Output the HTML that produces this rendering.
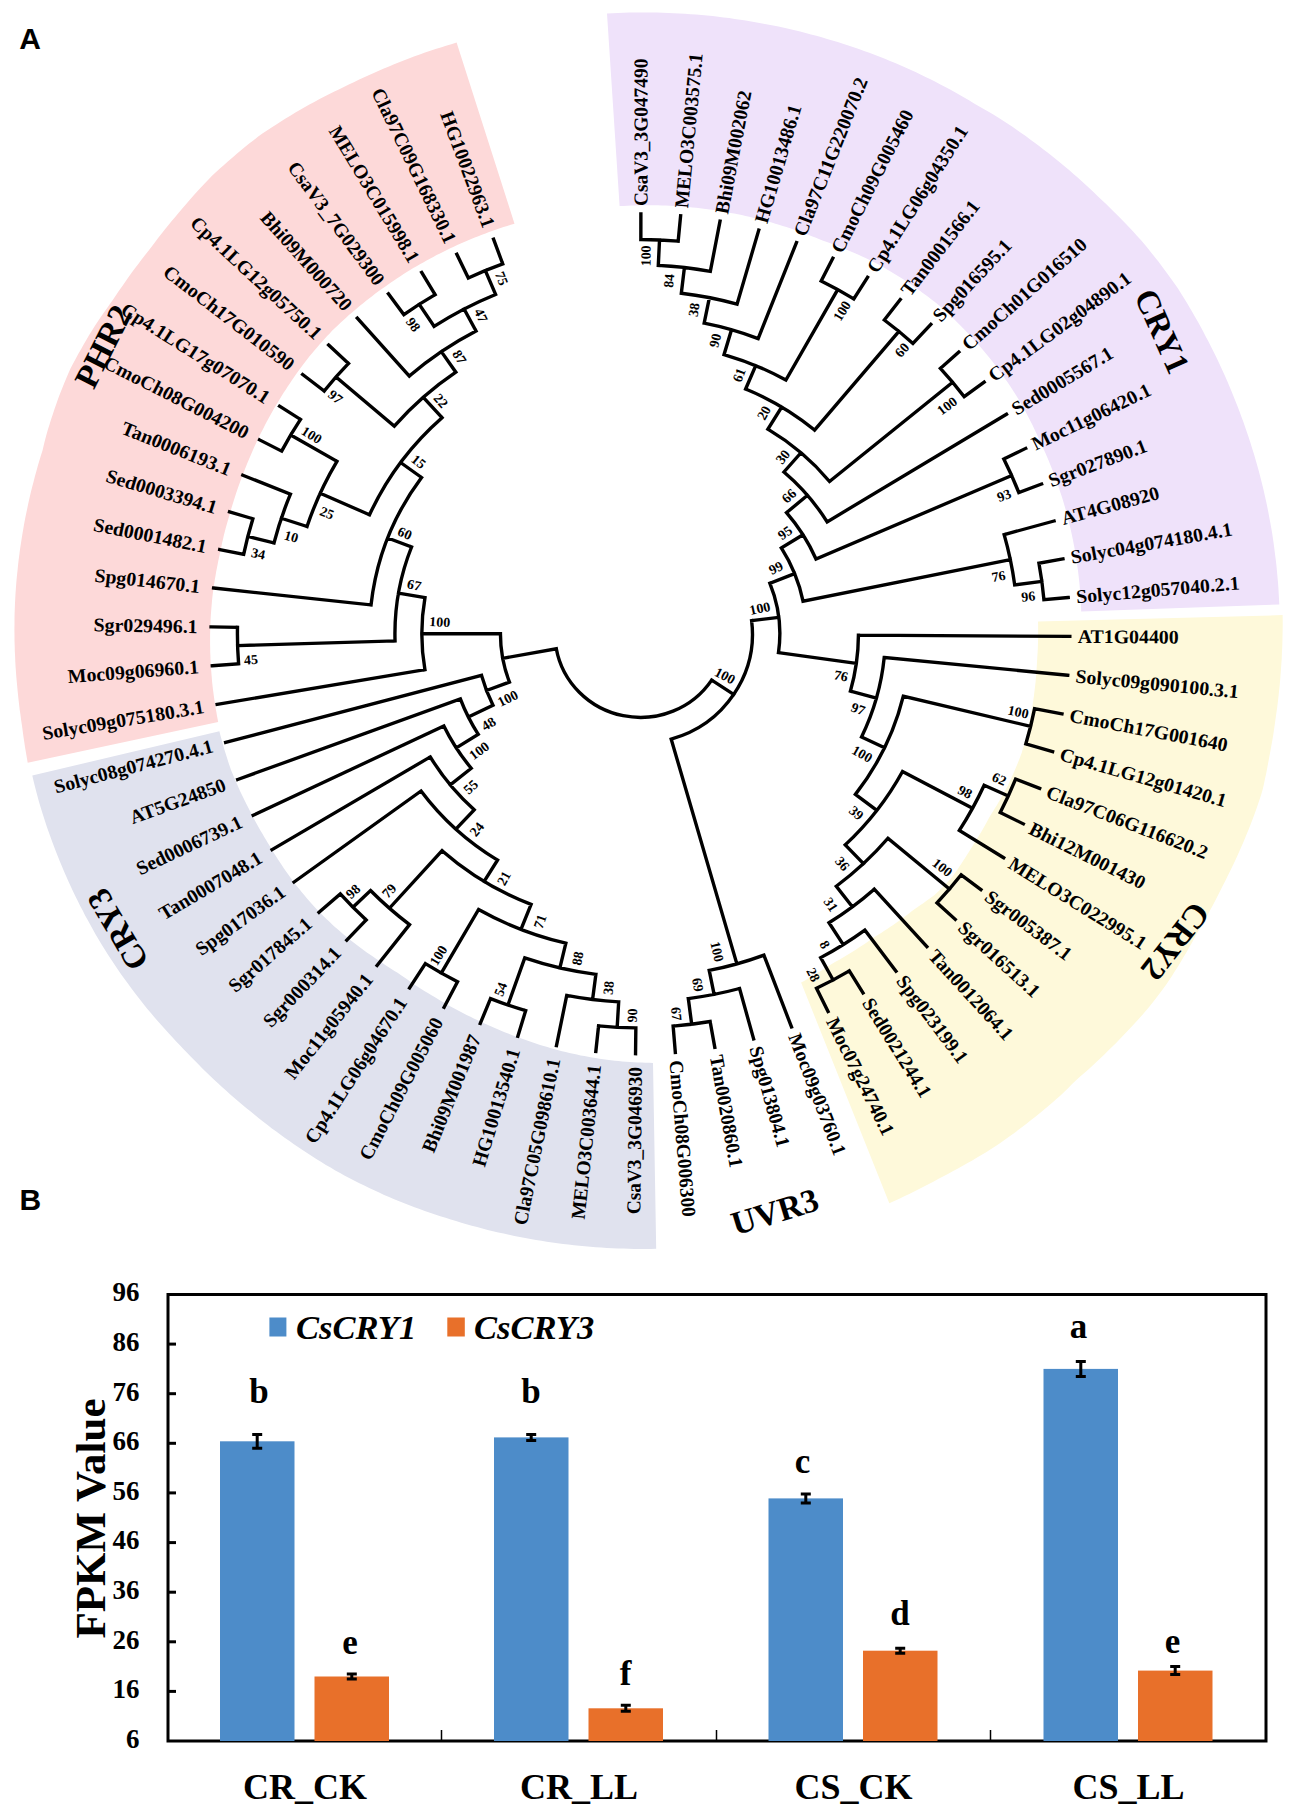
<!DOCTYPE html>
<html><head><meta charset="utf-8"><style>
html,body{margin:0;padding:0;background:#fff;}
svg{display:block;}
text{font-family:"Liberation Serif",serif;font-weight:bold;fill:#000;}
.lf{font-size:19.8px;dominant-baseline:central;}
.bs{font-size:14px;dominant-baseline:central;text-anchor:middle;}
.big{font-size:33.5px;dominant-baseline:central;text-anchor:middle;}
.tk{font-size:27px;dominant-baseline:central;text-anchor:end;}
.cat{font-size:36px;text-anchor:middle;}
.let{font-size:35px;text-anchor:middle;}
.leg{font-size:34.5px;font-style:italic;}
.yt{font-size:43px;text-anchor:middle;}
.pl{font-family:"Liberation Sans",sans-serif;font-size:30px;font-weight:bold;}
</style></head><body>
<svg width="1299" height="1814" viewBox="0 0 1299 1814">
<rect width="1299" height="1814" fill="#fff"/>
<path d="M27.7 762.8L26.8 757.5L25.9 752.2L25.0 746.9L24.2 741.6L23.4 736.3L22.7 731.0L22.0 725.7L21.2 720.4L20.5 715.1L19.7 709.8L19.1 704.5L18.5 699.2L17.9 693.8L17.4 688.5L16.9 683.2L16.4 677.8L16.0 672.5L15.6 667.1L15.3 661.8L15.1 656.5L14.8 651.1L14.7 645.7L14.5 640.4L14.5 635.0L14.4 629.7L14.5 624.3L14.5 619.0L14.6 613.6L14.8 608.2L15.0 602.9L15.3 597.5L15.6 592.2L16.0 586.8L16.4 581.5L16.9 576.2L17.5 570.8L18.0 565.5L18.6 560.2L19.3 554.9L20.0 549.5L20.8 544.2L21.6 538.9L22.5 533.6L23.4 528.3L24.3 523.1L25.3 517.8L26.4 512.5L27.5 507.3L28.6 502.0L29.8 496.8L31.0 491.6L32.3 486.4L33.7 481.2L35.0 476.0L36.5 470.8L37.9 465.6L39.4 460.5L41.0 455.3L42.6 450.2L43.8 445.0L45.1 439.7L46.5 434.5L48.0 429.3L49.6 424.2L51.2 419.0L52.9 413.9L54.6 408.8L56.4 403.7L58.2 398.6L60.1 393.5L62.1 388.5L64.1 383.4L66.2 378.4L68.3 373.4L70.5 368.5L73.0 363.7L75.6 358.9L78.2 354.1L80.9 349.4L83.5 344.7L86.3 340.0L89.0 335.3L91.9 330.7L94.8 326.1L97.8 321.6L100.8 317.1L103.9 312.6L107.0 308.2L110.1 303.7L113.3 299.3L116.3 294.8L119.3 290.3L122.4 285.9L125.5 281.4L128.6 277.0L131.8 272.6L135.0 268.2L138.3 263.9L141.6 259.6L144.9 255.3L148.3 251.1L151.6 246.8L154.8 242.4L158.1 238.1L161.5 233.8L164.8 229.5L168.3 225.3L171.7 221.0L175.2 216.9L178.7 212.7L182.3 208.5L185.8 204.4L189.4 200.2L193.1 196.1L196.7 192.1L200.4 188.0L204.2 184.0L208.0 180.0L211.8 176.1L215.8 172.3L219.9 168.6L224.0 164.9L228.1 161.3L232.3 157.7L236.5 154.1L240.7 150.6L244.9 147.1L249.2 143.6L253.6 140.2L257.9 136.8L262.4 133.6L267.0 130.6L271.6 127.5L276.3 124.5L280.9 121.5L285.6 118.6L290.3 115.7L295.0 112.8L299.8 110.0L304.6 107.2L309.4 104.6L314.3 101.9L319.1 99.3L324.0 96.8L328.9 94.2L333.9 91.8L338.8 89.4L343.8 87.0L348.8 84.6L353.8 82.2L358.7 79.8L363.7 77.5L368.7 75.2L373.8 72.9L378.8 70.7L383.9 68.5L389.0 66.4L394.1 64.3L399.2 62.2L404.3 60.2L409.5 58.2L414.6 56.3L419.8 54.5L425.0 52.6L430.3 50.8L435.5 49.1L440.8 47.4L446.0 45.8L451.3 44.2L456.6 42.6L514.5 223.7L510.8 224.8L507.2 225.9L503.5 227.1L499.9 228.3L496.3 229.5L492.7 230.8L489.1 232.1L485.5 233.4L481.9 234.8L478.3 236.2L474.8 237.6L471.2 239.0L467.7 240.5L464.2 242.0L460.7 243.6L457.2 245.1L453.8 246.7L450.3 248.3L446.9 250.0L443.4 251.7L440.0 253.4L436.6 255.1L433.3 256.9L429.9 258.7L426.6 260.5L423.2 262.4L419.9 264.3L416.6 266.2L413.3 268.1L410.1 270.1L406.8 272.1L403.6 274.1L400.4 276.2L397.2 278.3L394.0 280.4L390.9 282.5L387.8 284.7L384.7 286.9L381.6 289.1L378.5 291.3L375.4 293.6L372.4 295.9L369.4 298.2L366.4 300.5L363.5 302.9L360.5 305.3L357.6 307.7L354.7 310.2L351.8 312.7L348.9 315.1L346.1 317.7L343.3 320.2L340.5 322.8L337.7 325.4L335.0 328.0L332.3 330.6L329.7 333.4L327.1 336.1L324.5 338.9L322.0 341.7L319.5 344.6L317.0 347.4L314.6 350.3L312.1 353.2L309.7 356.1L307.4 359.0L305.1 362.0L302.8 365.0L300.6 368.0L298.4 371.1L296.2 374.1L294.0 377.2L291.9 380.3L289.8 383.4L287.7 386.5L285.7 389.7L283.6 392.8L281.6 396.0L279.7 399.2L277.7 402.4L275.8 405.6L273.9 408.8L272.1 412.0L270.3 415.3L268.5 418.6L266.7 421.8L265.0 425.1L263.3 428.4L261.6 431.8L259.9 435.1L258.3 438.4L256.7 441.8L255.2 445.1L253.6 448.5L252.1 451.9L250.7 455.3L249.2 458.7L247.8 462.1L246.4 465.6L245.0 469.0L243.7 472.4L242.3 475.9L241.0 479.3L239.8 482.8L238.5 486.3L237.3 489.7L236.1 493.2L235.0 496.7L233.9 500.3L232.8 503.8L231.7 507.3L230.7 510.8L229.7 514.4L228.6 517.9L227.6 521.4L226.6 525.0L225.6 528.5L224.7 532.1L223.8 535.6L223.0 539.2L222.1 542.8L221.4 546.4L220.6 550.0L219.9 553.6L219.1 557.2L218.3 560.8L217.6 564.4L216.9 568.0L216.2 571.6L215.6 575.2L214.9 578.9L214.4 582.5L213.8 586.1L213.3 589.8L212.8 593.4L212.4 597.1L212.0 600.8L211.7 604.4L211.4 608.1L211.1 611.8L210.8 615.4L210.6 619.1L210.5 622.8L210.3 626.5L210.2 630.2L210.1 633.9L210.1 637.6L210.1 641.2L210.1 644.9L210.2 648.6L210.2 652.3L210.4 656.0L210.5 659.7L210.7 663.4L210.9 667.1L211.2 670.7L211.5 674.4L211.8 678.1L212.1 681.8L212.5 685.5L212.9 689.1L213.4 692.8L213.9 696.5L214.4 700.1L215.0 703.8L215.5 707.4L216.2 711.1L216.8 714.7L217.5 718.4L218.2 722.0Z" fill="#fdd9d9"/>
<path d="M607.0 13.5L612.6 13.2L618.1 13.0L623.7 12.8L629.2 12.6L634.8 12.5L640.4 12.5L645.9 12.5L651.5 12.5L657.1 12.6L662.6 12.7L668.2 12.9L673.7 13.2L679.3 13.5L684.9 13.8L690.4 14.2L696.0 14.6L701.5 15.1L707.0 15.6L712.6 16.1L718.1 16.8L723.6 17.4L729.2 18.1L734.7 18.9L740.2 19.7L745.7 20.5L751.2 21.4L756.7 22.4L762.1 23.4L767.6 24.4L773.1 25.5L778.5 26.6L784.0 27.8L789.4 29.0L794.8 30.3L800.2 31.6L805.6 33.0L811.0 34.4L816.4 35.8L821.7 37.3L827.1 38.9L832.4 40.4L837.7 42.1L843.0 43.8L848.3 45.5L853.6 47.3L858.8 49.1L864.1 50.9L869.3 52.8L874.5 54.8L879.7 56.8L884.9 58.8L890.0 60.9L895.2 63.1L900.3 65.2L905.4 67.5L910.4 69.8L915.5 72.1L920.5 74.5L925.5 76.9L930.5 79.3L935.4 81.8L940.4 84.4L945.3 87.0L950.1 89.6L955.0 92.3L959.8 95.1L964.6 97.8L969.4 100.6L974.1 103.5L978.9 106.3L983.7 109.1L988.6 111.8L993.3 114.6L998.1 117.5L1002.8 120.5L1007.4 123.5L1012.1 126.6L1016.6 129.7L1021.2 132.9L1025.7 136.1L1030.2 139.4L1034.7 142.7L1039.1 146.0L1043.5 149.4L1047.9 152.8L1052.3 156.2L1056.6 159.7L1060.9 163.2L1065.1 166.8L1069.4 170.3L1073.5 174.0L1077.7 177.6L1081.8 181.3L1085.9 185.1L1090.0 188.8L1094.0 192.6L1098.0 196.5L1102.0 200.3L1106.1 204.1L1110.1 208.0L1114.1 211.9L1118.0 215.8L1121.9 219.7L1125.8 223.7L1129.6 227.8L1133.4 231.8L1137.1 235.9L1140.9 240.0L1144.5 244.2L1148.0 248.5L1151.5 252.9L1154.9 257.2L1158.4 261.6L1161.7 266.0L1165.0 270.5L1168.3 274.9L1171.6 279.4L1174.8 284.0L1178.0 288.5L1180.9 293.2L1183.9 297.9L1186.7 302.6L1189.6 307.4L1192.4 312.2L1195.1 317.0L1197.9 321.8L1200.5 326.6L1203.2 331.5L1205.7 336.4L1208.3 341.3L1210.8 346.2L1213.2 351.1L1215.7 356.1L1218.1 361.1L1220.4 366.1L1222.7 371.1L1225.0 376.1L1227.2 381.1L1229.4 386.2L1231.5 391.3L1233.6 396.4L1235.6 401.5L1237.6 406.6L1239.6 411.8L1241.5 416.9L1243.4 422.1L1245.2 427.3L1247.0 432.5L1248.8 437.7L1250.5 442.9L1252.1 448.2L1253.8 453.4L1255.3 458.7L1256.8 464.0L1258.3 469.3L1259.7 474.6L1261.1 479.9L1262.4 485.2L1263.7 490.6L1264.9 495.9L1266.1 501.3L1267.2 506.6L1268.3 512.0L1269.3 517.4L1270.3 522.8L1271.3 528.2L1272.2 533.6L1273.0 539.1L1273.8 544.5L1274.5 549.9L1275.2 555.4L1275.9 560.8L1276.5 566.2L1277.0 571.7L1277.5 577.2L1278.0 582.6L1278.4 588.1L1278.7 593.6L1279.0 599.0L1279.3 604.5L1081.2 611.6L1081.1 607.8L1080.9 604.0L1080.7 600.3L1080.5 596.5L1080.2 592.7L1079.9 588.9L1079.6 585.2L1079.2 581.4L1078.8 577.6L1078.4 573.9L1077.9 570.1L1077.4 566.4L1076.9 562.6L1076.3 558.9L1075.7 555.1L1075.1 551.4L1074.4 547.6L1073.7 543.9L1073.0 540.2L1072.2 536.5L1071.4 532.8L1070.6 529.0L1069.7 525.3L1068.8 521.7L1067.9 518.0L1066.9 514.3L1065.9 510.6L1064.9 507.0L1063.8 503.3L1062.7 499.6L1061.6 496.0L1060.4 492.4L1059.2 488.8L1058.0 485.2L1056.7 481.6L1055.4 478.0L1054.1 474.4L1052.7 470.8L1051.3 467.3L1049.9 463.7L1048.5 460.2L1047.0 456.7L1045.5 453.2L1043.9 449.7L1042.3 446.2L1040.7 442.7L1039.1 439.2L1037.5 435.7L1035.9 432.3L1034.2 428.8L1032.6 425.3L1030.9 421.9L1029.1 418.5L1027.3 415.0L1025.5 411.6L1023.7 408.3L1021.8 404.9L1019.9 401.5L1017.9 398.2L1015.9 395.0L1013.8 391.7L1011.7 388.5L1009.6 385.3L1007.4 382.1L1005.2 378.9L1003.0 375.7L1000.7 372.6L998.4 369.5L996.1 366.4L993.8 363.3L991.4 360.2L989.0 357.2L986.5 354.2L984.0 351.2L981.5 348.3L978.9 345.3L976.4 342.4L973.8 339.6L971.1 336.7L968.5 333.8L965.8 331.0L963.1 328.2L960.4 325.5L957.6 322.7L954.9 320.0L952.1 317.3L949.2 314.6L946.4 312.0L943.5 309.3L940.6 306.7L937.6 304.2L934.6 301.8L931.5 299.4L928.4 297.0L925.3 294.7L922.1 292.4L919.0 290.1L915.8 287.9L912.6 285.6L909.4 283.4L906.1 281.3L902.9 279.1L899.6 277.0L896.3 274.9L893.0 272.9L889.7 270.9L886.3 268.9L883.0 266.9L879.6 265.0L876.1 263.2L872.6 261.5L869.1 259.7L865.6 258.1L862.1 256.4L858.5 254.8L855.0 253.2L851.4 251.7L847.8 250.2L844.3 248.7L840.7 247.2L837.0 245.8L833.4 244.4L829.8 243.1L826.2 241.7L822.5 240.4L818.9 239.1L815.3 237.6L811.8 236.2L808.2 234.8L804.6 233.4L801.0 232.1L797.3 230.8L793.7 229.5L790.1 228.3L786.4 227.1L782.7 225.9L779.0 224.8L775.4 223.7L771.7 222.6L768.0 221.6L764.3 220.5L760.5 219.6L756.8 218.6L753.1 217.7L749.3 216.8L745.6 216.0L741.8 215.1L738.0 214.3L734.3 213.6L730.5 212.9L726.7 212.2L722.9 211.5L719.1 210.9L715.3 210.3L711.5 209.7L707.7 209.2L703.9 208.7L700.1 208.2L696.3 207.8L692.4 207.4L688.6 207.1L684.8 206.7L681.0 206.4L677.1 206.2L673.3 205.9L669.5 205.7L665.6 205.6L661.8 205.4L657.9 205.3L654.1 205.2L650.3 205.2L646.4 205.2L642.6 205.2L638.8 205.3L634.9 205.4L631.1 205.5L627.3 205.7L623.4 205.9L619.6 206.1Z" fill="#efe2fa"/>
<path d="M1282.6 615.1L1282.7 620.6L1282.7 626.1L1282.6 631.6L1282.5 637.0L1282.4 642.5L1282.2 648.0L1281.9 653.5L1281.7 659.0L1281.3 664.4L1280.9 669.9L1280.5 675.4L1280.1 680.8L1279.6 686.3L1279.0 691.7L1278.4 697.2L1277.8 702.6L1277.1 708.1L1276.3 713.5L1275.5 718.9L1274.8 724.3L1274.0 729.8L1273.2 735.2L1272.3 740.6L1271.3 746.0L1270.3 751.4L1269.3 756.8L1268.3 762.2L1267.3 767.6L1266.3 772.9L1265.1 778.3L1264.0 783.7L1262.8 789.0L1261.3 794.3L1259.6 799.6L1257.8 804.8L1256.0 810.0L1254.2 815.1L1252.2 820.3L1250.2 825.4L1248.2 830.5L1246.1 835.6L1244.0 840.7L1241.8 845.7L1239.6 850.7L1237.4 855.7L1235.1 860.7L1232.7 865.7L1230.4 870.6L1227.9 875.5L1225.5 880.4L1223.0 885.3L1220.5 890.2L1218.1 895.1L1215.6 899.9L1213.1 904.8L1210.5 909.6L1207.9 914.4L1205.2 919.1L1202.5 923.9L1199.8 928.6L1197.0 933.3L1194.4 938.1L1191.8 942.9L1189.1 947.6L1186.4 952.4L1183.6 957.1L1180.8 961.8L1178.0 966.4L1175.0 971.1L1172.1 975.7L1169.1 980.3L1166.1 984.8L1162.8 989.2L1159.6 993.6L1156.2 998.0L1152.9 1002.3L1149.5 1006.6L1145.9 1010.8L1142.3 1014.9L1138.7 1019.0L1135.0 1023.1L1131.3 1027.1L1127.5 1031.1L1123.7 1035.1L1119.9 1039.0L1116.1 1042.9L1112.2 1046.8L1108.3 1050.6L1104.4 1054.5L1100.4 1058.2L1096.4 1062.0L1092.4 1065.7L1088.4 1069.4L1084.3 1073.0L1080.2 1076.6L1076.1 1080.2L1072.1 1083.9L1068.3 1087.9L1064.4 1091.8L1060.5 1095.5L1056.4 1099.1L1052.2 1102.7L1048.1 1106.3L1043.9 1109.8L1039.7 1113.3L1035.4 1116.7L1031.1 1120.1L1026.8 1123.5L1022.5 1126.8L1018.1 1130.1L1013.7 1133.4L1009.3 1136.6L1004.8 1139.8L1000.3 1143.0L995.8 1146.0L991.1 1149.0L986.5 1151.9L981.8 1154.8L977.1 1157.6L972.3 1160.4L967.6 1163.1L962.8 1165.8L958.0 1168.5L953.2 1171.1L948.3 1173.7L943.5 1176.3L938.6 1178.8L933.8 1181.4L928.9 1184.0L924.0 1186.6L919.1 1189.1L914.2 1191.5L909.3 1193.9L904.3 1196.3L899.3 1198.7L894.3 1200.9L889.3 1203.2L801.1 982.5L804.1 980.9L807.0 979.2L810.0 977.5L812.9 975.8L815.8 974.0L818.7 972.2L821.6 970.5L824.5 968.6L827.3 966.8L830.1 964.9L833.0 963.2L835.9 961.5L838.9 959.9L841.8 958.2L844.7 956.5L847.6 954.8L850.5 953.0L853.3 951.2L856.2 949.4L859.0 947.6L861.8 945.8L864.6 943.9L867.4 942.0L870.2 940.1L872.9 938.1L875.7 936.2L878.6 934.5L881.5 932.7L884.3 930.8L887.2 929.0L890.0 927.1L892.8 925.2L895.6 923.2L898.4 921.3L901.1 919.3L903.9 917.3L906.6 915.3L909.3 913.2L912.0 911.1L914.8 909.1L917.7 907.1L920.5 905.1L923.3 903.2L926.2 901.1L929.0 899.1L931.8 897.0L934.5 894.9L937.1 892.6L939.6 890.2L942.0 887.8L944.5 885.3L946.9 882.8L949.2 880.3L951.5 877.8L953.5 875.0L955.5 872.2L957.5 869.4L959.4 866.5L961.3 863.7L963.2 860.8L965.1 858.0L966.9 855.1L968.7 852.2L970.5 849.2L972.3 846.4L974.1 843.5L975.9 840.6L977.7 837.7L979.5 834.8L981.2 831.9L982.9 828.9L984.6 826.0L986.3 823.0L987.9 820.0L989.5 817.0L991.3 814.1L993.1 811.2L994.9 808.3L996.7 805.4L998.4 802.4L1000.2 799.5L1001.8 796.5L1003.5 793.5L1005.2 790.5L1006.8 787.5L1008.3 784.4L1009.8 781.3L1011.2 778.2L1012.7 775.1L1014.0 772.0L1015.4 768.8L1016.7 765.7L1018.0 762.5L1019.3 759.3L1020.5 756.1L1021.7 752.9L1022.6 749.6L1023.6 746.3L1024.5 743.0L1025.3 739.7L1026.2 736.4L1027.0 733.1L1027.8 729.7L1028.5 726.4L1029.2 723.1L1029.9 719.7L1030.6 716.4L1031.2 713.0L1031.8 709.7L1032.4 706.3L1032.9 702.9L1033.4 699.6L1033.9 696.2L1034.3 692.8L1034.7 689.4L1035.1 686.0L1035.5 682.7L1035.8 679.3L1036.1 675.9L1036.4 672.5L1036.6 669.1L1036.8 665.7L1037.0 662.3L1037.2 658.9L1037.4 655.5L1037.6 652.2L1037.8 648.8L1037.9 645.4L1038.0 642.0L1038.1 638.6L1038.1 635.2L1038.1 631.8L1038.1 628.4L1038.1 625.0L1038.0 621.6Z" fill="#fef9da"/>
<path d="M656.2 1248.8L650.7 1248.9L645.2 1248.9L639.7 1248.9L634.2 1248.9L628.7 1248.8L623.3 1248.6L617.8 1248.4L612.3 1248.2L606.8 1247.9L601.3 1247.6L595.8 1247.2L590.4 1246.8L584.9 1246.3L579.4 1245.8L574.0 1245.2L568.5 1244.6L563.1 1243.9L557.6 1243.2L552.2 1242.5L546.8 1241.7L541.4 1240.8L536.0 1240.0L530.5 1239.0L525.2 1238.0L519.8 1237.0L514.4 1235.9L509.0 1234.8L503.7 1233.6L498.3 1232.4L493.0 1231.2L487.7 1229.9L482.4 1228.5L477.1 1227.1L471.8 1225.7L466.5 1224.2L461.3 1222.7L456.0 1221.1L450.8 1219.5L445.6 1217.8L440.3 1216.2L435.1 1214.5L430.0 1212.7L424.8 1210.9L419.6 1209.1L414.5 1207.2L409.4 1205.2L404.3 1203.3L399.2 1201.2L394.2 1199.2L389.1 1197.1L384.1 1194.9L379.1 1192.6L374.2 1190.3L369.2 1188.0L364.3 1185.6L359.4 1183.2L354.5 1180.8L349.7 1178.3L344.8 1175.7L340.1 1173.1L335.3 1170.4L330.6 1167.6L325.9 1164.9L321.3 1162.0L316.7 1159.2L312.1 1156.3L307.5 1153.3L302.9 1150.3L298.4 1147.3L293.9 1144.2L289.5 1141.1L285.0 1138.0L280.6 1134.8L276.3 1131.6L271.9 1128.4L267.6 1125.1L263.3 1121.8L259.1 1118.4L254.9 1115.0L250.7 1111.6L246.5 1108.2L242.3 1104.7L238.2 1101.3L234.1 1097.7L230.0 1094.2L226.0 1090.6L222.0 1087.0L218.0 1083.3L214.1 1079.7L210.2 1075.9L206.3 1072.2L202.4 1068.4L198.6 1064.6L194.9 1060.7L191.1 1056.9L187.3 1053.0L183.6 1049.2L179.9 1045.3L176.2 1041.4L172.6 1037.4L168.9 1033.4L165.3 1029.5L161.7 1025.5L158.1 1021.4L154.6 1017.4L151.1 1013.3L147.6 1009.2L144.2 1005.0L140.9 1000.8L137.6 996.5L134.3 992.3L131.1 988.0L127.9 983.6L124.7 979.3L121.6 974.9L118.5 970.5L115.5 966.0L112.5 961.6L109.5 957.1L106.6 952.6L103.8 948.0L101.0 943.4L98.2 938.8L95.5 934.2L92.9 929.5L90.3 924.8L87.7 920.1L85.1 915.4L82.7 910.6L80.2 905.9L77.8 901.1L75.4 896.3L73.1 891.4L70.8 886.6L68.6 881.7L66.4 876.8L64.3 871.9L62.2 867.0L60.1 862.0L58.1 857.0L56.1 852.1L54.2 847.1L52.3 842.1L50.5 837.0L48.7 832.0L46.9 826.9L45.2 821.8L43.6 816.8L42.0 811.7L40.4 806.5L38.9 801.4L37.5 796.2L36.1 791.1L34.8 785.9L33.5 780.7L32.3 775.5L219.4 731.3L220.3 734.9L221.3 738.5L222.2 742.1L223.2 745.6L224.3 749.2L225.4 752.8L226.5 756.3L227.6 759.8L228.8 763.4L230.0 766.9L231.2 770.4L232.6 773.8L234.0 777.3L235.5 780.7L237.0 784.1L238.5 787.5L240.0 790.9L241.6 794.2L243.2 797.6L244.9 800.9L246.5 804.2L248.2 807.5L249.9 810.8L251.6 814.1L253.3 817.4L255.0 820.7L256.8 824.0L258.6 827.2L260.4 830.4L262.3 833.6L264.1 836.8L266.1 840.0L268.0 843.2L269.9 846.3L271.8 849.5L273.7 852.7L275.7 855.8L277.7 858.9L279.7 862.0L281.7 865.1L283.8 868.2L285.9 871.3L288.1 874.3L290.2 877.3L292.4 880.3L294.6 883.3L296.9 886.2L299.3 889.1L301.6 892.0L304.0 894.8L306.4 897.7L308.8 900.5L311.2 903.3L313.7 906.0L316.2 908.8L318.8 911.5L321.4 914.1L324.1 916.7L326.7 919.3L329.5 921.8L332.2 924.4L334.9 926.9L337.7 929.3L340.5 931.8L343.3 934.2L346.2 936.6L349.0 939.0L351.9 941.3L354.9 943.6L357.8 945.8L360.8 948.0L363.8 950.2L366.8 952.4L369.9 954.5L372.9 956.6L376.0 958.7L379.1 960.7L382.1 962.8L385.2 964.9L388.3 966.9L391.4 968.9L394.5 970.9L397.6 972.8L400.7 974.9L403.7 977.0L406.7 979.1L409.7 981.2L412.8 983.3L415.8 985.4L418.9 987.4L422.0 989.4L425.2 991.4L428.3 993.3L431.5 995.2L434.6 997.1L437.8 999.1L441.0 1001.0L444.2 1002.8L447.4 1004.7L450.6 1006.5L453.9 1008.3L457.2 1010.0L460.5 1011.8L463.8 1013.5L467.1 1015.2L470.5 1016.8L473.8 1018.4L477.2 1020.0L480.6 1021.7L483.9 1023.2L487.4 1024.8L490.8 1026.3L494.2 1027.8L497.7 1029.3L501.1 1030.7L504.6 1032.2L508.1 1033.5L511.6 1034.9L515.1 1036.2L518.7 1037.5L522.2 1038.8L525.8 1040.1L529.3 1041.3L532.9 1042.6L536.5 1043.8L540.1 1044.9L543.7 1046.0L547.4 1047.1L551.0 1048.2L554.7 1049.2L558.4 1050.2L562.0 1051.2L565.7 1052.1L569.4 1053.0L573.2 1053.8L576.9 1054.6L580.6 1055.4L584.4 1056.1L588.1 1056.8L591.9 1057.5L595.7 1058.1L599.5 1058.7L603.2 1059.3L607.0 1059.8L610.8 1060.2L614.7 1060.7L618.5 1061.0L622.3 1061.4L626.1 1061.7L630.0 1061.9L633.8 1062.2L637.6 1062.4L641.5 1062.6L645.3 1062.7L649.2 1062.8L653.0 1062.9Z" fill="#e0e2ee"/>
<g transform="translate(640.43,633.8) scale(1,0.978)">
<path d="M0.42 -403.20A403.20 403.20 0 0 1 37.74 -401.43M0.42 -403.20L0.45 -429.40M37.74 -401.43L40.20 -427.51M17.87 -376.68A377.10 377.10 0 0 1 69.90 -370.56M17.87 -376.68L19.10 -402.75M69.90 -370.56L79.60 -421.96M40.90 -348.21A350.60 350.60 0 0 1 96.61 -337.03M40.90 -348.21L43.99 -374.53M96.61 -337.03L118.32 -412.78M63.75 -317.67A324.00 324.00 0 0 1 117.73 -301.86M63.75 -317.67L68.98 -343.75M117.73 -301.86L156.02 -400.05M180.74 -360.65A403.40 403.40 0 0 1 213.35 -342.37M180.74 -360.65L192.39 -383.89M213.35 -342.37L227.10 -364.43M83.63 -285.50A297.50 297.50 0 0 1 145.47 -259.51M83.63 -285.50L91.08 -310.93M145.47 -259.51L197.25 -351.88M243.88 -320.83A403.00 403.00 0 0 1 272.53 -296.88M243.88 -320.83L259.86 -341.85M272.53 -296.88L290.39 -316.32M105.21 -250.29A271.50 271.50 0 0 1 174.14 -208.30M105.21 -250.29L115.29 -274.25M174.14 -208.30L258.48 -309.18M299.96 -271.38A404.50 404.50 0 0 1 323.79 -242.45M299.96 -271.38L318.42 -288.08M323.79 -242.45L343.72 -257.37M127.46 -209.24A245.00 245.00 0 0 1 189.10 -155.78M127.46 -209.24L141.24 -231.87M189.10 -155.78L312.21 -257.19M143.49 -165.45A219.00 219.00 0 0 1 186.70 -114.47M143.49 -165.45L160.52 -185.09M186.70 -114.47L366.07 -224.45M363.38 -178.82A405.00 405.00 0 0 1 378.38 -144.42M363.38 -178.82L385.28 -189.60M378.38 -144.42L401.17 -153.12M146.07 -123.83A191.50 191.50 0 0 1 175.56 -76.50M146.07 -123.83L167.05 -141.62M175.56 -76.50L371.28 -161.79M398.51 -72.19A405.00 405.00 0 0 1 403.49 -34.99M398.51 -72.19L422.52 -76.54M403.49 -34.99L427.79 -37.10M363.73 -101.41A377.60 377.60 0 0 1 374.27 -50.02M363.73 -101.41L413.62 -115.32M374.27 -50.02L401.43 -53.65M140.90 -87.77A166.00 166.00 0 0 1 162.61 -33.37M140.90 -87.77L162.55 -101.25M162.61 -33.37L369.89 -75.90M208.87 344.65A403.00 403.00 0 0 1 176.07 362.50M208.87 344.65L222.56 367.22M176.07 362.50L187.61 386.25M224.40 302.94A377.00 377.00 0 0 1 180.25 331.12M224.40 302.94L255.59 345.04M180.25 331.12L192.68 353.95M233.81 261.12A350.50 350.50 0 0 1 188.56 295.46M233.81 261.12L286.44 319.90M188.56 295.46L202.82 317.80M320.76 246.45A404.50 404.50 0 0 1 296.57 275.08M320.76 246.45L340.50 261.62M296.57 275.08L314.82 292.01M247.50 209.09A324.00 324.00 0 0 1 195.86 258.10M247.50 209.09L308.99 261.04M195.86 258.10L211.88 279.21M375.16 148.55A403.50 403.50 0 0 1 359.80 182.64M375.16 148.55L399.24 158.08M359.80 182.64L382.89 194.36M343.71 154.88A377.00 377.00 0 0 1 318.93 201.03M343.71 154.88L367.88 165.77M318.93 201.03L363.26 228.97M262.09 140.77A297.50 297.50 0 0 1 204.79 215.80M262.09 140.77L332.12 178.39M204.79 215.80L223.03 235.02M394.15 76.46A401.50 401.50 0 0 1 385.38 112.62M394.15 76.46L421.54 81.78M385.38 112.62L412.16 120.45M262.88 63.76A270.50 270.50 0 0 1 214.98 164.18M262.88 63.76L390.19 94.64M214.98 164.18L236.43 180.57M243.80 24.19A245.00 245.00 0 0 1 221.13 105.48M243.80 24.19L427.30 42.40M221.13 105.48L244.14 116.46M218.00 1.35A218.00 218.00 0 0 1 209.99 58.57M218.00 1.35L429.39 2.66M209.99 58.57L235.99 65.82M129.47 -51.67A139.40 139.40 0 0 1 138.05 19.33M129.47 -51.67L154.18 -61.53M138.05 19.33L215.89 30.23M69.70 396.42A402.50 402.50 0 0 1 32.70 401.17M69.70 396.42L74.36 422.91M32.70 401.17L34.89 427.98M99.11 362.70A376.00 376.00 0 0 1 47.88 372.94M99.11 362.70L113.19 414.21M47.88 372.94L51.26 399.22M123.47 328.57A351.00 351.00 0 0 1 68.78 344.20M123.47 328.57L151.05 401.96M68.78 344.20L73.67 368.71M111.19 -13.44A112.00 112.00 0 0 1 30.77 107.69M111.19 -13.44L138.39 -16.73M30.77 107.69L96.44 337.49M-4.58 402.97A403.00 403.00 0 0 1 -41.86 400.82M-4.58 402.97L-4.88 429.37M-41.86 400.82L-44.61 427.08M-21.75 376.37A377.00 377.00 0 0 1 -73.70 369.73M-73.70 369.73L-83.95 421.11M-21.75 376.37L-23.25 402.33M-114.75 385.27A402.00 402.00 0 0 1 -149.92 373.00M-114.75 385.27L-122.57 411.53M-149.92 373.00L-160.14 398.42M-44.54 348.16A351.00 351.00 0 0 1 -115.67 331.39M-115.67 331.39L-132.48 379.54M-44.54 348.16L-47.84 373.95M-182.89 355.74A400.00 400.00 0 0 1 -215.04 337.28M-182.89 355.74L-196.33 381.89M-215.04 337.28L-230.84 362.07M-74.58 316.33A325.00 325.00 0 0 1 -161.83 281.84M-161.83 281.84L-199.18 346.88M-74.58 316.33L-80.54 341.63M-274.21 292.59A401.00 401.00 0 0 1 -300.12 265.95M-274.21 292.59L-293.63 313.31M-300.12 265.95L-321.38 284.78M-230.92 297.37A376.50 376.50 0 0 1 -269.91 262.49M-230.92 297.37L-263.37 339.15M-269.91 262.49L-287.48 279.57M-109.35 276.68A297.50 297.50 0 0 1 -198.35 221.73M-198.35 221.73L-251.02 280.61M-109.35 276.68L-119.46 302.25M-142.89 231.45A272.00 272.00 0 0 1 -219.40 160.77M-219.40 160.77L-346.36 253.81M-142.89 231.45L-156.28 253.14M-166.24 179.97A245.00 245.00 0 0 1 -210.18 125.90M-210.18 125.90L-368.37 220.66M-166.24 179.97L-184.56 199.81M-169.18 137.48A218.00 218.00 0 0 1 -196.58 94.23M-196.58 94.23L-387.21 185.61M-169.18 137.48L-190.14 154.51M-162.19 102.75A192.00 192.00 0 0 1 -180.08 66.61M-180.08 66.61L-402.73 148.97M-162.19 102.75L-184.16 116.66M-147.44 72.95A164.50 164.50 0 0 1 -158.90 42.54M-158.90 42.54L-414.79 111.05M-147.44 72.95L-172.09 85.15M-172.11 -363.85A402.50 402.50 0 0 1 -137.69 -378.22M-172.11 -363.85L-183.61 -388.16M-137.69 -378.22L-146.89 -403.49M-236.53 -326.29A403.00 403.00 0 0 1 -205.31 -346.78M-236.53 -326.29L-252.02 -347.66M-205.31 -346.78L-218.76 -369.50M-206.34 -314.33A376.00 376.00 0 0 1 -144.86 -346.98M-206.34 -314.33L-221.15 -336.90M-144.86 -346.98L-155.07 -371.43M-231.10 -263.52A350.50 350.50 0 0 1 -164.39 -309.56M-231.10 -263.52L-283.12 -322.84M-164.39 -309.56L-176.35 -332.08M-316.23 -248.20A402.00 402.00 0 0 1 -291.90 -276.41M-316.23 -248.20L-337.79 -265.11M-291.90 -276.41L-311.79 -295.24M-246.09 -212.29A325.00 325.00 0 0 1 -184.60 -267.49M-246.09 -212.29L-304.39 -262.58M-184.60 -267.49L-199.08 -288.47M-396.77 -81.23A405.00 405.00 0 0 1 -387.55 -117.61M-396.77 -81.23L-420.68 -86.12M-387.55 -117.61L-410.90 -124.69M-366.41 -92.89A378.00 378.00 0 0 1 -350.00 -142.78M-366.41 -92.89L-392.58 -99.52M-350.00 -142.78L-397.59 -162.19M-358.78 -186.80A404.50 404.50 0 0 1 -339.95 -219.21M-358.78 -186.80L-380.87 -198.30M-339.95 -219.21L-360.88 -232.71M-333.42 -109.68A351.00 351.00 0 0 1 -303.48 -176.35M-333.42 -109.68L-359.07 -118.12M-303.48 -176.35L-349.74 -203.23M-270.93 -121.67A297.00 297.00 0 0 1 -198.40 -221.01M-270.93 -121.67L-320.19 -143.80M-198.40 -221.01L-217.10 -241.85M-269.39 -29.54A271.00 271.00 0 0 1 -218.87 -159.81M-269.39 -29.54L-426.84 -46.81M-218.87 -159.81L-239.87 -175.14M-401.83 30.67A403.00 403.00 0 0 1 -402.95 -6.66M-401.83 30.67L-428.15 32.68M-402.95 -6.66L-429.34 -7.09M-245.39 7.32A245.50 245.50 0 0 1 -228.89 -88.77M-245.39 7.32L-402.82 12.02M-228.89 -88.77L-252.67 -97.99M-215.49 36.74A218.60 218.60 0 0 1 -215.45 -37.00M-215.49 36.74L-423.29 72.18M-215.45 -37.00L-241.96 -41.55M-131.00 49.39A140.00 140.00 0 0 1 -140.00 -0.08M-131.00 49.39L-153.92 58.03M-140.00 -0.08L-218.60 -0.13M71.23 47.29A85.5 85.5 0 0 1 -84.12 15.31M-84.12 15.31L-137.74 25.06M71.23 47.29L93.31 61.95" fill="none" stroke="#000" stroke-width="3.4" stroke-linecap="square" stroke-linejoin="miter"/>
<text transform="rotate(-89.94)" x="437.40" y="0" class="lf">CsaV3_3G047490</text>
<text transform="rotate(-84.63)" x="437.40" y="0" class="lf">MELO3C003575.1</text>
<text transform="rotate(-79.32)" x="437.40" y="0" class="lf">Bhi09M002062</text>
<text transform="rotate(-74.01)" x="437.40" y="0" class="lf">HG10013486.1</text>
<text transform="rotate(-68.69)" x="437.40" y="0" class="lf">Cla97C11G220070.2</text>
<text transform="rotate(-63.38)" x="437.40" y="0" class="lf">CmoCh09G005460</text>
<text transform="rotate(-58.07)" x="437.40" y="0" class="lf">Cp4.1LG06g04350.1</text>
<text transform="rotate(-52.76)" x="437.40" y="0" class="lf">Tan0001566.1</text>
<text transform="rotate(-47.45)" x="437.40" y="0" class="lf">Spg016595.1</text>
<text transform="rotate(-42.14)" x="437.40" y="0" class="lf">CmoCh01G016510</text>
<text transform="rotate(-36.83)" x="437.40" y="0" class="lf">Cp4.1LG02g04890.1</text>
<text transform="rotate(-31.51)" x="437.40" y="0" class="lf">Sed0005567.1</text>
<text transform="rotate(-26.20)" x="437.40" y="0" class="lf">Moc11g06420.1</text>
<text transform="rotate(-20.89)" x="437.40" y="0" class="lf">Sgr027890.1</text>
<text transform="rotate(-15.58)" x="437.40" y="0" class="lf">AT4G08920</text>
<text transform="rotate(-10.27)" x="437.40" y="0" class="lf">Solyc04g074180.4.1</text>
<text transform="rotate(-4.96)" x="437.40" y="0" class="lf">Solyc12g057040.2.1</text>
<text transform="rotate(0.36)" x="437.40" y="0" class="lf">AT1G04400</text>
<text transform="rotate(5.67)" x="437.40" y="0" class="lf">Solyc09g090100.3.1</text>
<text transform="rotate(10.98)" x="437.40" y="0" class="lf">CmoCh17G001640</text>
<text transform="rotate(16.29)" x="437.40" y="0" class="lf">Cp4.1LG12g01420.1</text>
<text transform="rotate(21.60)" x="437.40" y="0" class="lf">Cla97C06G116620.2</text>
<text transform="rotate(26.91)" x="437.40" y="0" class="lf">Bhi12M001430</text>
<text transform="rotate(32.22)" x="437.40" y="0" class="lf">MELO3C022995.1</text>
<text transform="rotate(37.54)" x="437.40" y="0" class="lf">Sgr005387.1</text>
<text transform="rotate(42.85)" x="437.40" y="0" class="lf">Sgr016513.1</text>
<text transform="rotate(48.16)" x="437.40" y="0" class="lf">Tan0012064.1</text>
<text transform="rotate(53.47)" x="437.40" y="0" class="lf">Spg023199.1</text>
<text transform="rotate(58.78)" x="437.40" y="0" class="lf">Sed0021244.1</text>
<text transform="rotate(64.09)" x="437.40" y="0" class="lf">Moc07g24740.1</text>
<text transform="rotate(69.41)" x="437.40" y="0" class="lf">Moc09g03760.1</text>
<text transform="rotate(74.72)" x="437.40" y="0" class="lf">Spg013804.1</text>
<text transform="rotate(80.03)" x="437.40" y="0" class="lf">Tan0020860.1</text>
<text transform="rotate(85.34)" x="437.40" y="0" class="lf">CmoCh08G006300</text>
<text transform="rotate(270.65)" x="-442.90" y="0" class="lf" text-anchor="end">CsaV3_3G046930</text>
<text transform="rotate(275.96)" x="-442.90" y="0" class="lf" text-anchor="end">MELO3C003644.1</text>
<text transform="rotate(281.27)" x="-442.90" y="0" class="lf" text-anchor="end">Cla97C05G098610.1</text>
<text transform="rotate(286.59)" x="-442.90" y="0" class="lf" text-anchor="end">HG10013540.1</text>
<text transform="rotate(291.90)" x="-442.90" y="0" class="lf" text-anchor="end">Bhi09M001987</text>
<text transform="rotate(297.21)" x="-442.90" y="0" class="lf" text-anchor="end">CmoCh09G005060</text>
<text transform="rotate(302.52)" x="-442.90" y="0" class="lf" text-anchor="end">Cp4.1LG06g04670.1</text>
<text transform="rotate(307.83)" x="-442.90" y="0" class="lf" text-anchor="end">Moc11g05940.1</text>
<text transform="rotate(313.14)" x="-442.90" y="0" class="lf" text-anchor="end">Sgr000314.1</text>
<text transform="rotate(318.45)" x="-442.90" y="0" class="lf" text-anchor="end">Sgr017845.1</text>
<text transform="rotate(323.77)" x="-442.90" y="0" class="lf" text-anchor="end">Spg017036.1</text>
<text transform="rotate(329.08)" x="-442.90" y="0" class="lf" text-anchor="end">Tan0007048.1</text>
<text transform="rotate(334.39)" x="-442.90" y="0" class="lf" text-anchor="end">Sed0006739.1</text>
<text transform="rotate(339.70)" x="-442.90" y="0" class="lf" text-anchor="end">AT5G24850</text>
<text transform="rotate(345.01)" x="-442.90" y="0" class="lf" text-anchor="end">Solyc08g074270.4.1</text>
<text transform="rotate(350.32)" x="-442.90" y="0" class="lf" text-anchor="end">Solyc09g075180.3.1</text>
<text transform="rotate(355.63)" x="-442.90" y="0" class="lf" text-anchor="end">Moc09g06960.1</text>
<text transform="rotate(360.95)" x="-442.90" y="0" class="lf" text-anchor="end">Sgr029496.1</text>
<text transform="rotate(366.26)" x="-442.90" y="0" class="lf" text-anchor="end">Spg014670.1</text>
<text transform="rotate(371.57)" x="-442.90" y="0" class="lf" text-anchor="end">Sed0001482.1</text>
<text transform="rotate(376.88)" x="-442.90" y="0" class="lf" text-anchor="end">Sed0003394.1</text>
<text transform="rotate(382.19)" x="-442.90" y="0" class="lf" text-anchor="end">Tan0006193.1</text>
<text transform="rotate(387.50)" x="-442.90" y="0" class="lf" text-anchor="end">CmoCh08G004200</text>
<text transform="rotate(392.82)" x="-442.90" y="0" class="lf" text-anchor="end">Cp4.1LG17g07070.1</text>
<text transform="rotate(398.13)" x="-442.90" y="0" class="lf" text-anchor="end">CmoCh17G010590</text>
<text transform="rotate(403.44)" x="-442.90" y="0" class="lf" text-anchor="end">Cp4.1LG12g05750.1</text>
<text transform="rotate(408.75)" x="-442.90" y="0" class="lf" text-anchor="end">Bhi09M000720</text>
<text transform="rotate(414.06)" x="-442.90" y="0" class="lf" text-anchor="end">CsaV3_7G029300</text>
<text transform="rotate(419.37)" x="-442.90" y="0" class="lf" text-anchor="end">MELO3C015998.1</text>
<text transform="rotate(424.68)" x="-442.90" y="0" class="lf" text-anchor="end">Cla97C09G168330.1</text>
<text transform="rotate(430.00)" x="-442.90" y="0" class="lf" text-anchor="end">HG10022963.1</text>
<text transform="translate(5.57,-386.50) rotate(-89.17)" class="bs">100</text>
<text transform="translate(28.67,-360.94) rotate(-85.46)" class="bs">84</text>
<text transform="translate(53.67,-331.39) rotate(-80.80)" class="bs">38</text>
<text transform="translate(74.87,-299.90) rotate(-75.98)" class="bs">90</text>
<text transform="translate(201.67,-330.06) rotate(-58.57)" class="bs">100</text>
<text transform="translate(98.87,-264.52) rotate(-69.51)" class="bs">61</text>
<text transform="translate(261.67,-290.08) rotate(-47.95)" class="bs">60</text>
<text transform="translate(123.57,-225.77) rotate(-61.31)" class="bs">20</text>
<text transform="translate(306.77,-232.82) rotate(-37.20)" class="bs">100</text>
<text transform="translate(142.57,-180.78) rotate(-51.74)" class="bs">30</text>
<text transform="translate(148.57,-140.90) rotate(-43.48)" class="bs">66</text>
<text transform="translate(363.57,-141.31) rotate(-21.24)" class="bs">93</text>
<text transform="translate(144.57,-103.07) rotate(-35.49)" class="bs">95</text>
<text transform="translate(387.77,-38.04) rotate(-5.60)" class="bs">96</text>
<text transform="translate(358.17,-58.69) rotate(-9.31)" class="bs">76</text>
<text transform="translate(135.57,-67.28) rotate(-26.39)" class="bs">99</text>
<text transform="translate(172.67,348.67) rotate(63.65)" class="bs">28</text>
<text transform="translate(184.17,317.89) rotate(59.91)" class="bs">8</text>
<text transform="translate(190.37,276.99) rotate(55.50)" class="bs">31</text>
<text transform="translate(301.97,239.16) rotate(38.38)" class="bs">100</text>
<text transform="translate(201.87,235.28) rotate(49.37)" class="bs">36</text>
<text transform="translate(358.77,148.57) rotate(22.49)" class="bs">62</text>
<text transform="translate(324.67,161.86) rotate(26.50)" class="bs">98</text>
<text transform="translate(215.77,183.33) rotate(40.35)" class="bs">39</text>
<text transform="translate(377.77,80.06) rotate(11.97)" class="bs">100</text>
<text transform="translate(221.67,123.01) rotate(29.03)" class="bs">100</text>
<text transform="translate(217.57,76.99) rotate(19.49)" class="bs">97</text>
<text transform="translate(200.57,43.15) rotate(12.14)" class="bs">76</text>
<text transform="translate(119.47,-25.87) rotate(-12.22)" class="bs">100</text>
<text transform="translate(35.77,388.65) rotate(84.74)" class="bs">67</text>
<text transform="translate(57.27,358.79) rotate(80.93)" class="bs">69</text>
<text transform="translate(76.57,324.95) rotate(76.74)" class="bs">100</text>
<text transform="translate(84.47,43.05) rotate(27.00)" class="bs">100</text>
<text transform="translate(-8.03,390.29) rotate(271.18)" class="bs">90</text>
<text transform="translate(-31.83,361.96) rotate(275.03)" class="bs">38</text>
<text transform="translate(-139.63,363.50) rotate(291.01)" class="bs">54</text>
<text transform="translate(-62.63,332.00) rotate(280.68)" class="bs">88</text>
<text transform="translate(-201.93,328.94) rotate(301.55)" class="bs">100</text>
<text transform="translate(-100.33,294.27) rotate(288.83)" class="bs">71</text>
<text transform="translate(-287.33,263.60) rotate(317.47)" class="bs">98</text>
<text transform="translate(-251.13,262.88) rotate(313.69)" class="bs">79</text>
<text transform="translate(-136.43,250.20) rotate(298.60)" class="bs">21</text>
<text transform="translate(-163.43,200.00) rotate(309.25)" class="bs">24</text>
<text transform="translate(-169.53,156.65) rotate(317.26)" class="bs">55</text>
<text transform="translate(-161.13,119.73) rotate(323.38)" class="bs">100</text>
<text transform="translate(-151.83,92.13) rotate(328.75)" class="bs">48</text>
<text transform="translate(-132.63,66.16) rotate(333.49)" class="bs">100</text>
<text transform="translate(-138.83,-363.29) rotate(69.09)" class="bs">75</text>
<text transform="translate(-227.33,-316.05) rotate(54.27)" class="bs">98</text>
<text transform="translate(-159.63,-325.46) rotate(63.87)" class="bs">47</text>
<text transform="translate(-181.13,-283.03) rotate(57.38)" class="bs">87</text>
<text transform="translate(-305.03,-242.13) rotate(38.44)" class="bs">97</text>
<text transform="translate(-199.63,-238.14) rotate(50.03)" class="bs">22</text>
<text transform="translate(-382.13,-81.80) rotate(12.08)" class="bs">34</text>
<text transform="translate(-349.13,-99.18) rotate(15.86)" class="bs">10</text>
<text transform="translate(-328.83,-203.07) rotate(31.70)" class="bs">100</text>
<text transform="translate(-313.63,-123.42) rotate(21.48)" class="bs">25</text>
<text transform="translate(-221.83,-175.97) rotate(38.42)" class="bs">15</text>
<text transform="translate(-235.73,-102.56) rotate(23.51)" class="bs">60</text>
<text transform="translate(-389.43,26.69) rotate(356.08)" class="bs">45</text>
<text transform="translate(-226.33,-49.80) rotate(12.41)" class="bs">67</text>
<text transform="translate(-200.73,-11.86) rotate(3.38)" class="bs">100</text>
</g>
<text transform="translate(103.1,346.4) rotate(-63.2)" class="big">PHR2</text>
<text transform="translate(1162.3,331) rotate(66)" class="big">CRY1</text>
<text transform="translate(1175.6,941.6) rotate(128)" class="big">CRY2</text>
<text transform="translate(117.4,929.7) rotate(239.5)" class="big">CRY3</text>
<text transform="translate(774.8,1211.5) rotate(-17.1)" class="big">UVR3</text>
<text x="19.2" y="48.5" class="pl">A</text>
<text x="19.5" y="1209.8" class="pl">B</text>
<rect x="168.0" y="1294.5" width="1098.0" height="446.5" fill="none" stroke="#000" stroke-width="3"/>
<text x="139.5" y="1738.8" class="tk">6</text>
<line x1="168.0" y1="1691.4" x2="176.0" y2="1691.4" stroke="#000" stroke-width="3"/>
<text x="139.5" y="1689.2" class="tk">16</text>
<line x1="168.0" y1="1641.8" x2="176.0" y2="1641.8" stroke="#000" stroke-width="3"/>
<text x="139.5" y="1639.6" class="tk">26</text>
<line x1="168.0" y1="1592.2" x2="176.0" y2="1592.2" stroke="#000" stroke-width="3"/>
<text x="139.5" y="1590.0" class="tk">36</text>
<line x1="168.0" y1="1542.6" x2="176.0" y2="1542.6" stroke="#000" stroke-width="3"/>
<text x="139.5" y="1540.4" class="tk">46</text>
<line x1="168.0" y1="1492.9" x2="176.0" y2="1492.9" stroke="#000" stroke-width="3"/>
<text x="139.5" y="1490.7" class="tk">56</text>
<line x1="168.0" y1="1443.3" x2="176.0" y2="1443.3" stroke="#000" stroke-width="3"/>
<text x="139.5" y="1441.1" class="tk">66</text>
<line x1="168.0" y1="1393.7" x2="176.0" y2="1393.7" stroke="#000" stroke-width="3"/>
<text x="139.5" y="1391.5" class="tk">76</text>
<line x1="168.0" y1="1344.1" x2="176.0" y2="1344.1" stroke="#000" stroke-width="3"/>
<text x="139.5" y="1341.9" class="tk">86</text>
<text x="139.5" y="1292.3" class="tk">96</text>
<line x1="441.5" y1="1730" x2="441.5" y2="1741.0" stroke="#000" stroke-width="1.5"/>
<line x1="716.5" y1="1730" x2="716.5" y2="1741.0" stroke="#000" stroke-width="1.5"/>
<line x1="990.5" y1="1730" x2="990.5" y2="1741.0" stroke="#000" stroke-width="1.5"/>
<rect x="220.0" y="1441.3" width="74.5" height="299.7" fill="#4d8cc9"/>
<rect x="314.5" y="1676.5" width="74.5" height="64.5" fill="#e8702a"/>
<path d="M252.2 1434.4H262.2M257.2 1434.4V1448.3M252.2 1448.3H262.2" stroke="#000" stroke-width="3" fill="none"/>
<path d="M346.8 1674.0H356.8M351.8 1674.0V1679.0M346.8 1679.0H356.8" stroke="#000" stroke-width="3" fill="none"/>
<text x="259" y="1403" class="let">b</text>
<text x="350" y="1654" class="let">e</text>
<text x="305.0" y="1798.6" class="cat">CR_CK</text>
<rect x="494.0" y="1437.4" width="74.5" height="303.6" fill="#4d8cc9"/>
<rect x="588.5" y="1708.3" width="74.5" height="32.7" fill="#e8702a"/>
<path d="M526.2 1434.4H536.2M531.2 1434.4V1440.4M526.2 1440.4H536.2" stroke="#000" stroke-width="3" fill="none"/>
<path d="M620.8 1705.3H630.8M625.8 1705.3V1711.2M620.8 1711.2H630.8" stroke="#000" stroke-width="3" fill="none"/>
<text x="531" y="1403" class="let">b</text>
<text x="625.5" y="1685" class="let">f</text>
<text x="579.0" y="1798.6" class="cat">CR_LL</text>
<rect x="768.5" y="1498.4" width="74.5" height="242.6" fill="#4d8cc9"/>
<rect x="863.0" y="1650.7" width="74.5" height="90.3" fill="#e8702a"/>
<path d="M800.8 1493.9H810.8M805.8 1493.9V1502.9M800.8 1502.9H810.8" stroke="#000" stroke-width="3" fill="none"/>
<path d="M895.2 1648.2H905.2M900.2 1648.2V1653.2M895.2 1653.2H905.2" stroke="#000" stroke-width="3" fill="none"/>
<text x="802.5" y="1472.5" class="let">c</text>
<text x="900" y="1625" class="let">d</text>
<text x="853.5" y="1798.6" class="cat">CS_CK</text>
<rect x="1043.5" y="1368.9" width="74.5" height="372.1" fill="#4d8cc9"/>
<rect x="1138.0" y="1670.6" width="74.5" height="70.4" fill="#e8702a"/>
<path d="M1075.8 1361.5H1085.8M1080.8 1361.5V1376.4M1075.8 1376.4H1085.8" stroke="#000" stroke-width="3" fill="none"/>
<path d="M1170.2 1666.6H1180.2M1175.2 1666.6V1674.5M1170.2 1674.5H1180.2" stroke="#000" stroke-width="3" fill="none"/>
<text x="1078.5" y="1337.5" class="let">a</text>
<text x="1172.5" y="1652.5" class="let">e</text>
<text x="1128.5" y="1798.6" class="cat">CS_LL</text>
<rect x="269.4" y="1317.5" width="17" height="19" fill="#4d8cc9"/>
<rect x="447.3" y="1317.5" width="17.5" height="19" fill="#e8702a"/>
<text x="296" y="1339" class="leg">CsCRY1</text>
<text x="474" y="1339" class="leg">CsCRY3</text>
<text transform="translate(104.8,1518.5) rotate(-90)" class="yt">FPKM Value</text>
</svg>
</body></html>
